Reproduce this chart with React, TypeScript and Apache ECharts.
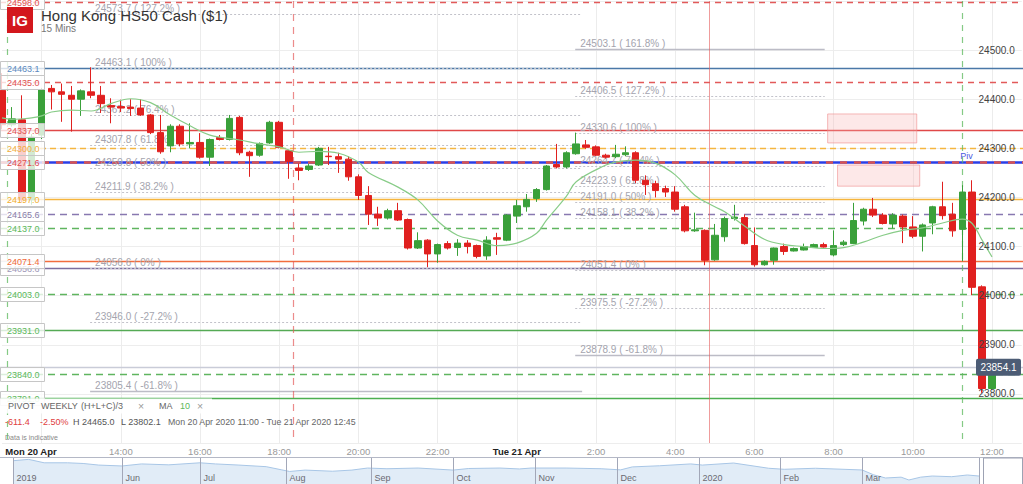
import React, { useEffect, useRef } from "react";
import * as echarts from "echarts";

const FONT = "'Liberation Sans', Arial, Helvetica, sans-serif";

// ---------------- DATA ----------------
// 15-minute candles, Mon 20 Apr 11:00 onward
const startHour = 11;
const slotCount = 104;
const categories: string[] = [];
for (let i = 0; i < slotCount; i++) {
  const m = startHour * 60 + i * 15;
  const day = m >= 1440 ? "Tue" : "Mon";
  const mm = m % 1440;
  categories.push(`${day} ${Math.floor(mm / 60)}:${String(mm % 60).padStart(2, "0")}`);
}

const tickCategories = ["Mon 11:00", "Mon 14:00", "Mon 16:00", "Mon 18:00", "Mon 20:00", "Mon 22:00", "Tue 0:00", "Tue 2:00", "Tue 4:00", "Tue 6:00", "Tue 8:00", "Tue 10:00", "Tue 12:00"];
const tickLabels = ["Mon 20 Apr", "14:00", "16:00", "18:00", "20:00", "22:00", "Tue 21 Apr", "2:00", "4:00", "6:00", "8:00", "10:00", "12:00"];
const gridCategories = ["Mon 12:00", "Mon 14:00", "Mon 16:00", "Mon 18:00", "Mon 20:00", "Mon 22:00", "Tue 0:00", "Tue 2:00", "Tue 4:00", "Tue 6:00", "Tue 8:00", "Tue 10:00", "Tue 12:00"];

// [open, close, low, high]
const candles: number[][] = [
  [24418, 24348, 24339, 24453], [24348, 24360, 24344, 24384], [24358, 24195, 24190, 24408], [24195, 24323, 24185, 24329],
  [24327, 24419, 24319, 24423], [24422, 24415, 24379, 24429], [24415, 24410, 24354, 24432], [24408, 24400, 24334, 24427],
  [24400, 24417, 24366, 24420], [24415, 24408, 24402, 24465], [24408, 24391, 24372, 24427], [24387, 24384, 24351, 24402],
  [24385, 24382, 24374, 24399], [24384, 24381, 24366, 24400], [24382, 24368, 24366, 24400], [24368, 24332, 24329, 24370],
  [24332, 24293, 24289, 24368], [24305, 24345, 24292, 24349], [24345, 24309, 24304, 24349], [24309, 24312, 24300, 24351],
  [24312, 24282, 24279, 24331], [24282, 24318, 24264, 24320], [24322, 24318, 24316, 24327], [24318, 24361, 24316, 24368],
  [24363, 24291, 24286, 24366], [24292, 24285, 24242, 24295], [24286, 24310, 24283, 24312], [24311, 24353, 24309, 24356],
  [24353, 24302, 24300, 24356], [24295, 24273, 24238, 24297], [24260, 24255, 24235, 24269], [24257, 24264, 24254, 24268],
  [24266, 24300, 24264, 24303], [24284, 24283, 24266, 24303], [24283, 24278, 24250, 24291], [24278, 24242, 24234, 24284],
  [24242, 24204, 24195, 24247], [24204, 24166, 24144, 24223], [24166, 24158, 24142, 24181], [24158, 24173, 24155, 24177],
  [24173, 24154, 24152, 24189], [24155, 24097, 24094, 24157], [24097, 24112, 24095, 24129], [24113, 24085, 24058, 24115],
  [24085, 24104, 24067, 24106], [24106, 24097, 24094, 24111], [24098, 24107, 24081, 24115], [24107, 24100, 24086, 24113],
  [24102, 24080, 24076, 24104], [24081, 24113, 24073, 24121], [24118, 24115, 24083, 24128], [24113, 24164, 24111, 24166],
  [24162, 24183, 24148, 24195], [24181, 24196, 24171, 24207], [24198, 24216, 24191, 24219], [24216, 24264, 24214, 24266],
  [24267, 24262, 24259, 24309], [24262, 24291, 24259, 24294], [24289, 24309, 24287, 24332], [24307, 24302, 24299, 24317],
  [24303, 24286, 24284, 24306], [24286, 24282, 24279, 24289], [24283, 24288, 24280, 24307], [24287, 24291, 24284, 24304],
  [24291, 24235, 24229, 24294], [24235, 24226, 24205, 24245], [24228, 24214, 24200, 24234], [24218, 24211, 24201, 24224],
  [24211, 24176, 24171, 24223], [24181, 24132, 24129, 24185], [24132, 24134, 24130, 24169], [24133, 24072, 24062, 24135],
  [24073, 24123, 24071, 24146], [24120, 24157, 24110, 24161], [24157, 24160, 24153, 24185], [24159, 24106, 24104, 24165],
  [24102, 24063, 24059, 24139], [24063, 24070, 24061, 24072], [24072, 24097, 24063, 24098], [24100, 24090, 24083, 24106],
  [24091, 24096, 24090, 24098], [24093, 24100, 24092, 24106], [24098, 24104, 24097, 24106], [24104, 24099, 24098, 24108],
  [24083, 24102, 24080, 24133], [24104, 24109, 24101, 24113], [24106, 24153, 24105, 24189], [24152, 24176, 24143, 24179],
  [24176, 24164, 24160, 24199], [24164, 24147, 24145, 24168], [24146, 24164, 24137, 24168], [24162, 24140, 24107, 24165],
  [24140, 24121, 24117, 24162], [24121, 24144, 24090, 24147], [24148, 24181, 24125, 24183], [24181, 24163, 24155, 24232],
  [24166, 24132, 24120, 24189], [24135, 24211, 24070, 24225], [24211, 24017, 24001, 24235], [24018, 23811, 23802.1, 24021],
  [23811, 23854.1, 23808, 23857],
];

// MA 10: [candle index, value]
const maPoints: number[][] = [
  [0, 24362], [1, 24359], [2, 24360], [3, 24362], [4, 24366], [5, 24374], [7, 24378], [9, 24376], [11, 24391], [13, 24401],
  [15, 24393], [17, 24368], [19, 24346], [21, 24327], [24, 24317], [26, 24309], [28, 24303], [30, 24292], [32, 24294], [34, 24290],
  [36, 24272], [37, 24251], [40, 24221], [42, 24195], [44, 24152], [46, 24123], [48, 24113], [50, 24102], [52, 24107], [54, 24127],
  [55, 24154], [57, 24202], [58, 24232], [61, 24266], [62, 24272], [64, 24276], [66, 24270], [68, 24246], [70, 24204], [72, 24181],
  [73, 24171], [75, 24142], [77, 24115], [79, 24104], [81, 24100], [83, 24096], [85, 24098], [87, 24109], [89, 24123], [91, 24133],
  [93, 24138], [95, 24148], [97, 24156], [98, 24147], [99, 24113], [100, 24079],
];

// horizontal levels (pivot levels, alerts)
const levelValues = [24598.0, 24463.1, 24435.0, 24337.0, 24300.0, 24271.6, 24197.0, 24165.6, 24137.0, 24056.6, 24071.4, 24003.0, 23931.0, 23854.1, 23840.0, 23791.0];
const currentPrice = 23854.1;

// Fibonacci sets
const fib1Values = [24573.7, 24463.1, 24367.2, 24307.8, 24259.8, 24211.9, 24056.6, 23946.0, 23805.4];
const fib1Pcts = ["127.2", "100", "76.4", "61.8", "50", "38.2", "0", "-27.2", "-61.8"];
const fib2Values = [24503.1, 24406.5, 24330.6, 24264.7, 24223.9, 24191.0, 24158.1, 24051.4, 23975.5, 23878.9];
const fib2Pcts = ["161.8", "127.2", "100", "76.4", "61.8", "50", "38.2", "0", "-27.2", "-61.8"];
const fibSpans = [[8.9, 58.6], [57.9, 83.1]]; // candle-index anchors

// zones: [fromIndex, toIndex, top price, bottom price]
const zones = [[83.4, 92.4, 24370, 24311], [84.4, 92.7, 24266, 24223]];

// vertical session markers (candle index)
const vlineIdx = [0.5, 29.4, 71.4, 97.0];

// navigator (trading-day index, value)
const navDays = [0, 4, 8, 14, 18, 22, 28, 33, 40, 48, 52, 58, 65, 69, 71, 75, 82, 87, 91, 96, 104, 113, 117, 125, 130, 133, 142, 151, 156, 159, 166, 174, 177, 185, 194, 198, 206, 218, 221, 224, 228, 230, 233, 236, 241, 245, 248];
const navValues = [29200, 29800, 28300, 28300, 28000, 27300, 26900, 27800, 27400, 28300, 27800, 27300, 26600, 25200, 24500, 25100, 24600, 25100, 26000, 25700, 26000, 25100, 25800, 26000, 25600, 26000, 26000, 25700, 25200, 26500, 27000, 27800, 27300, 28200, 25900, 25450, 25900, 25150, 23000, 21640, 22000, 20760, 22000, 22500, 22200, 22950, 22500];
const monthNames = ["2019", "Jun", "Jul", "Aug", "Sep", "Oct", "Nov", "Dec", "2020", "Feb", "Mar", ""];
const monthStartDays = [0, 28, 48, 70, 92, 113, 134, 155, 176, 197, 218, 248];

// ---------------- STYLES ----------------
const GREEN = "#3aa03a";
const RED = "#e0201f";
const LEVEL_STYLE: any[] = [
  { color: "#e25a5a", width: 1.3, dash: [6, 5], text: "#e05050" },
  { color: "#4a78a8", width: 1.6, text: "#5b8ac0" },
  { color: "#e25a5a", width: 1.3, dash: [6, 5], text: "#e05050" },
  { color: "#e04848", width: 1.3, text: "#e05050" },
  { color: "#f5b640", width: 1.6, dash: [6, 4], text: "#f0ad40" },
  { color: "#2a3ee6", width: 2.4, pivot: true, text: "#e05050" },
  { color: "#f5b53d", width: 1.6, text: "#f0ad30" },
  { color: "#8878b0", width: 1.4, dash: [7, 5], text: "#8a80a8" },
  { color: "#5fb55f", width: 1.4, dash: [7, 5], text: "#5cb85c" },
  { color: "#7d6e9e", width: 1.5, text: "#a098b8" },
  { color: "#f26d3d", width: 1.6, text: "#f06a3a" },
  { color: "#5fb55f", width: 1.4, dash: [7, 5], text: "#5cb85c" },
  { color: "#55aa55", width: 1.4, text: "#5cb85c" },
  { color: "#c9ccd8", width: 1.5, noLabel: true },
  { color: "#5fb55f", width: 1.4, dash: [7, 5], text: "#5cb85c" },
  { color: "#4caf50", width: 1.6, text: "#5cb85c" },
];
const VLINE_STYLE: any[] = [
  { color: "rgba(92,184,92,0.75)", dash: [6, 6], width: 1.2 },
  { color: "rgba(228,90,90,0.7)", dash: [7, 6], width: 1.2 },
  { color: "rgba(228,90,90,0.6)", width: 1 },
  { color: "rgba(92,184,92,0.75)", dash: [6, 6], width: 1.2 },
];

function xAt(api: any, v: number) {
  const base = api.coord([0, 24000])[0];
  const step = api.coord([1, 24000])[0] - base;
  return base + v * step;
}

export default function App() {
  const ref = useRef<HTMLDivElement>(null);

  useEffect(() => {
    if (!ref.current) return;
    const chart = echarts.init(ref.current, undefined, { renderer: "svg" });

    const levelSeries = {
      type: "custom",
      z: 1,
      silent: true,
      xAxisIndex: 0,
      yAxisIndex: 0,
      data: levelValues.map((v, i) => [0, v, i]),
      renderItem: (params: any, api: any) => {
        const i = api.value(2);
        const st = LEVEL_STYLE[i];
        const y = Math.round(api.coord([0, api.value(1)])[1]) + 0.5;
        const children: any[] = [];
        const style: any = { stroke: st.color, lineWidth: st.width };
        if (st.dash) style.lineDash = st.dash;
        children.push({ type: "line", shape: { x1: 0, y1: y, x2: 1023, y2: y }, style });
        if (st.pivot) {
          children.push({ type: "line", shape: { x1: 0, y1: y, x2: 1023, y2: y }, style: { stroke: "#d9534f", lineWidth: 2.4, lineDash: [7, 7] } });
          children.push({ type: "text", style: { x: xAt(api, 96.8), y: y - 7, text: "Piv", fill: "#4a5ae0", fontSize: 9, fontFamily: FONT, verticalAlign: "middle" } });
        }
        return { type: "group", children };
      },
    };

    const fibData: number[][] = [];
    fib1Values.forEach((v, k) => fibData.push([0, v, 0, k]));
    fib2Values.forEach((v, k) => fibData.push([0, v, 1, k]));
    const fibSeries = {
      type: "custom",
      z: 1,
      silent: true,
      data: fibData,
      renderItem: (params: any, api: any) => {
        const set = api.value(2);
        const k = api.value(3);
        const v = api.value(1);
        const pct = set === 0 ? fib1Pcts[k] : fib2Pcts[k];
        const xs = xAt(api, fibSpans[set][0]);
        const xe = xAt(api, fibSpans[set][1]);
        const y = Math.round(api.coord([0, v])[1]) + 0.5;
        const solid = pct === "161.8" || pct === "-61.8";
        const style: any = solid ? { stroke: "#bcbcc6", lineWidth: 1.3 } : { stroke: "#c2c2ca", lineWidth: 1, lineDash: [2, 2] };
        return {
          type: "group",
          children: [
            { type: "line", shape: { x1: xs, y1: y, x2: xe, y2: y }, style },
            { type: "text", style: { x: xs + 5, y: y - 6, text: `${v.toFixed(1)} ( ${pct}% )`, fill: "#a4a4ae", fontSize: 10, fontFamily: FONT, verticalAlign: "middle" } },
          ],
        };
      },
    };

    const zoneSeries = {
      type: "custom",
      z: 1,
      silent: true,
      data: zones.map((z, i) => [0, z[2], i]),
      renderItem: (params: any, api: any) => {
        const z = zones[api.value(2)];
        const x0 = xAt(api, z[0]);
        const x1 = xAt(api, z[1]);
        const y0 = api.coord([0, z[2]])[1];
        const y1 = api.coord([0, z[3]])[1];
        return { type: "rect", shape: { x: x0, y: y0, width: x1 - x0, height: y1 - y0 }, style: { fill: "rgba(250,180,180,0.3)", stroke: "rgba(238,140,140,0.6)", lineWidth: 1 } };
      },
    };

    const vlineSeries = {
      type: "custom",
      z: 1,
      silent: true,
      data: vlineIdx.map((v, i) => [0, 24000, i]),
      renderItem: (params: any, api: any) => {
        const i = api.value(2);
        const st = VLINE_STYLE[i];
        const x = Math.round(xAt(api, vlineIdx[i])) + 0.5;
        const cs = params.coordSys;
        const style: any = { stroke: st.color, lineWidth: st.width };
        if (st.dash) style.lineDash = st.dash;
        return { type: "line", shape: { x1: x, y1: cs.y, x2: x, y2: cs.y + cs.height }, style };
      },
    };

    const labelSeries = {
      type: "custom",
      z: 6,
      silent: true,
      data: levelValues.map((v, i) => [0, v, i]),
      renderItem: (params: any, api: any) => {
        const i = api.value(2);
        const st = LEVEL_STYLE[i];
        if (st.noLabel) return null;
        const v = api.value(1);
        const y = Math.round(api.coord([0, v])[1]) + 0.5;
        return {
          type: "group",
          children: [
            { type: "rect", shape: { x: 0.5, y: y - 7, width: 44, height: 14 }, style: { fill: "rgba(255,255,255,0.78)", stroke: "#c6c6c6", lineWidth: 1 } },
            { type: "text", style: { x: 7, y: y + 0.5, text: v.toFixed(1), fill: st.text, fontSize: 9, fontFamily: FONT, verticalAlign: "middle" } },
          ],
        };
      },
    };

    const priceBoxSeries = {
      type: "custom",
      z: 7,
      silent: true,
      data: [[0, currentPrice]],
      renderItem: (params: any, api: any) => {
        const y = api.coord([0, api.value(1)])[1];
        return {
          type: "group",
          children: [
            { type: "rect", shape: { x: 976, y: y - 8.5, width: 45, height: 17, r: 2 }, style: { fill: "#4c5c75" } },
            { type: "text", style: { x: 998.5, y: y + 0.5, text: api.value(1).toFixed(1), fill: "#ffffff", fontSize: 10, fontFamily: FONT, align: "center", verticalAlign: "middle" } },
          ],
        };
      },
    };

    const monthSeries = {
      type: "custom",
      xAxisIndex: 1,
      yAxisIndex: 2,
      z: 3,
      silent: true,
      data: monthStartDays.map((d, i) => [d, 25000, i]),
      renderItem: (params: any, api: any) => {
        const i = api.value(2);
        const x = Math.round(api.coord([api.value(0), 25000])[0]) + 0.5;
        const cs = params.coordSys;
        const children: any[] = [
          { type: "line", shape: { x1: x, y1: cs.y, x2: x, y2: cs.y + cs.height }, style: { stroke: "#a2a7b8", lineWidth: 1 } },
        ];
        if (monthNames[i]) {
          children.push({ type: "text", style: { x: x + 3, y: cs.y + 19.5, text: monthNames[i], fill: "#6a6a72", fontSize: 9, fontFamily: FONT, verticalAlign: "middle" } });
        }
        return { type: "group", children };
      },
    };

    const txt = (x: number, y: number, text: string, fill: string, fontSize: number, extra: any = {}) => ({
      type: "text",
      z: 100,
      silent: true,
      style: { x, y, text, fill, fontSize, fontFamily: FONT, verticalAlign: "middle", ...extra },
    });

    const option: any = {
      animation: false,
      backgroundColor: "#ffffff",
      grid: [
        { left: 2, top: 1, width: 1019.7, height: 442 },
        { left: 13, top: 458, width: 966, height: 26 },
      ],
      xAxis: [
        {
          type: "category",
          gridIndex: 0,
          data: categories,
          boundaryGap: false,
          axisLine: { show: false },
          axisTick: { show: false },
          axisLabel: {
            interval: (idx: number, val: string) => tickCategories.indexOf(val) >= 0,
            formatter: (val: string) => {
              const k = tickCategories.indexOf(val);
              if (k < 0) return "";
              const lab = tickLabels[k];
              if (k === 0) return `{first|${lab}}`;
              if (lab.indexOf("Apr") >= 0) return `{day|${lab}}`;
              return lab;
            },
            color: "#9a9a9a",
            fontSize: 9.5,
            fontFamily: FONT,
            margin: 3,
            rich: {
              first: { fontWeight: "bold", color: "#222222", fontSize: 9.5, fontFamily: FONT, padding: [0, 0, 0, 58] },
              day: { fontWeight: "bold", color: "#222222", fontSize: 9.5, fontFamily: FONT },
            },
          },
          splitLine: {
            show: true,
            interval: (idx: number, val: string) => gridCategories.indexOf(val) >= 0,
            lineStyle: { color: "#ececec", width: 1 },
          },
        },
        {
          type: "value",
          gridIndex: 1,
          min: 0,
          max: 248,
          show: false,
        },
      ],
      yAxis: [
        {
          type: "value",
          gridIndex: 0,
          position: "right",
          min: 23700,
          max: 24600,
          interval: 100,
          axisLine: { show: false },
          axisTick: { show: false },
          axisLabel: { show: false },
          splitLine: { show: true, lineStyle: { color: "#ededed", width: 1 } },
        },
        {
          type: "value",
          gridIndex: 0,
          position: "right",
          min: 23700,
          max: 24600,
          interval: 100,
          z: 10,
          axisLine: { show: false },
          axisTick: { show: false },
          splitLine: { show: false },
          axisLabel: {
            inside: true,
            margin: 7,
            color: "#444444",
            fontSize: 10,
            fontFamily: FONT,
            formatter: (v: number) => (v === 24600 || v === 23700 ? "" : v.toFixed(1)),
          },
        },
        {
          type: "value",
          gridIndex: 1,
          min: 19000,
          max: 30400,
          show: false,
        },
      ],
      series: [
        levelSeries,
        fibSeries,
        zoneSeries,
        vlineSeries,
        {
          type: "candlestick",
          xAxisIndex: 0,
          yAxisIndex: 0,
          data: candles,
          barWidth: 7,
          clip: false,
          z: 3,
          silent: true,
          itemStyle: { color: GREEN, color0: RED, borderColor: GREEN, borderColor0: RED, borderWidth: 1 },
        },
        {
          type: "line",
          xAxisIndex: 0,
          yAxisIndex: 0,
          data: maPoints,
          smooth: 0.4,
          symbol: "none",
          z: 4,
          silent: true,
          lineStyle: { color: "#88cc88", width: 1.2 },
        },
        labelSeries,
        priceBoxSeries,
        {
          type: "line",
          xAxisIndex: 1,
          yAxisIndex: 2,
          data: navDays.map((d, i) => [d, navValues[i]]),
          symbol: "none",
          silent: true,
          z: 2,
          lineStyle: { color: "#a8c6e6", width: 1 },
          areaStyle: { color: "#e1ecf7", opacity: 1 },
        },
        monthSeries,
      ],
      graphic: [
        // title
        { type: "rect", z: 100, silent: true, shape: { x: 7, y: 7, width: 26, height: 26 }, style: { fill: "#d3171d" } },
        txt(20, 20.5, "IG", "#ffffff", 15, { fontWeight: "bold", align: "center" }),
        txt(41, 15, "Hong Kong HS50 Cash ($1)", "#333333", 15),
        txt(41, 28.5, "15 Mins", "#777777", 10),
        // legend rows
        { type: "rect", z: 99, silent: true, shape: { x: 0, y: 398.5, width: 212, height: 15 }, style: { fill: "rgba(255,255,255,0.9)" } },
        txt(8, 406, "PIVOT", "#666666", 9),
        txt(41, 406, "WEEKLY", "#666666", 9),
        txt(81, 406, "(H+L+C)/3", "#666666", 9),
        txt(138, 406, "×", "#9a9a9a", 10.5),
        txt(159, 406, "MA", "#666666", 9),
        txt(180, 406, "10", "#5cb85c", 9),
        txt(197, 406, "×", "#9a9a9a", 10.5),
        txt(5, 422, "-611.4", "#e04040", 9),
        txt(40, 422, "-2.50%", "#e04040", 9),
        txt(73, 422, "H 24465.0", "#555555", 9),
        txt(121, 422, "L 23802.1", "#555555", 9),
        txt(168, 422, "Mon 20 Apr 2020 11:00 - Tue 21 Apr 2020 12:45", "#666666", 8.8),
        txt(5, 437, "Data is indicative", "#888888", 7),
        // navigator frame
        { type: "line", z: 100, silent: true, shape: { x1: 0, y1: 457.5, x2: 1023, y2: 457.5 }, style: { stroke: "#b4b8c6", lineWidth: 1 } },
        { type: "rect", z: 100, silent: true, shape: { x: 983.5, y: 458, width: 39, height: 27 }, style: { fill: "#ffffff", stroke: "#9da2b3", lineWidth: 1 } },
      ],
    };

    chart.setOption(option);
    return () => chart.dispose();
  }, []);

  return (
    <div
      ref={ref}
      style={{ position: "fixed", left: 0, top: 0, width: 1023, height: 484, background: "#fff" }}
    />
  );
}
